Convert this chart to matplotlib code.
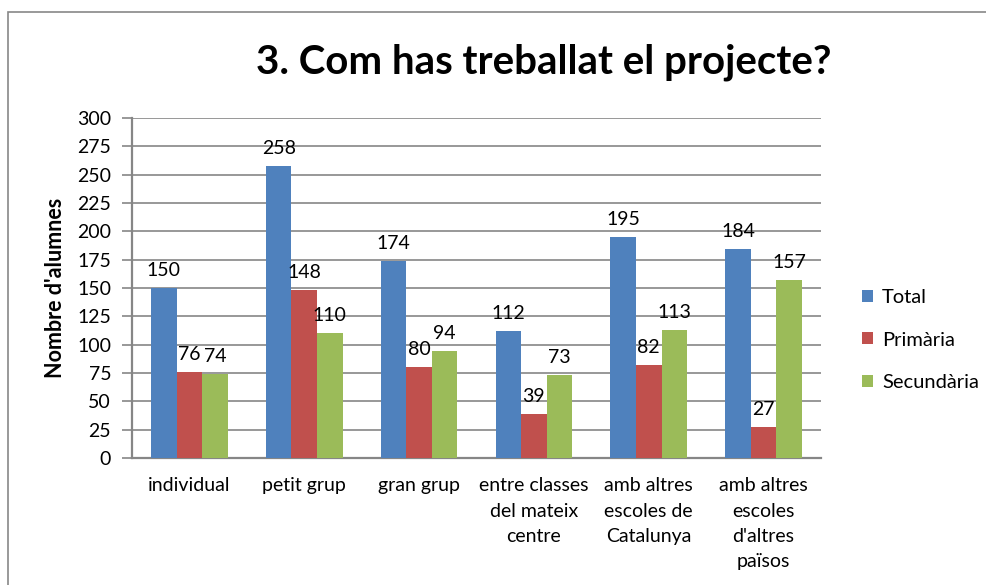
import matplotlib
matplotlib.use("Agg")
import matplotlib.pyplot as plt
from matplotlib.patches import Rectangle, Patch
import numpy as np

categories = ["individual", "petit grup", "gran grup",
              "entre classes\ndel mateix\ncentre",
              "amb altres\nescoles de\nCatalunya",
              "amb altres\nescoles\nd'altres\npaïsos"]
series_names = ["Total", "Primària", "Secundària"]
total = [150, 258, 174, 112, 195, 184]
primaria = [76, 148, 80, 39, 82, 27]
secundaria = [74, 110, 94, 73, 113, 157]
colors = ["#4F81BD", "#C0504D", "#9BBB59"]
yticks = list(range(0, 301, 25))

plt.rcParams['font.family'] = ['Lato', 'DejaVu Sans']

W, H = 987, 585
fig = plt.figure(figsize=(W/100, H/100), dpi=100)
ax = fig.add_axes([132/W, 1-458/H, (821-132)/W, (458-118)/H])

# outer frame
fig.patches.append(Rectangle((8/W, -0.1), 1.2, 1-12/H+0.1, transform=fig.transFigure,
                             fill=False, edgecolor="#878787", linewidth=1.2))

n = len(categories)
x = np.arange(n)
bw = 1/4.5
for i, (vals, name, c) in enumerate(zip([total, primaria, secundaria], series_names, colors)):
    pos = x + (i-1)*bw
    ax.bar(pos, vals, width=bw, color=c, label=name, zorder=3, linewidth=0)
    for p, v in zip(pos, vals):
        ax.text(p, v + 8, str(v), ha="center", va="bottom", fontsize=14, color="black", zorder=4)

ax.set_xlim(-0.5, n-0.5)
ax.set_ylim(0, 300)
ax.set_yticks(yticks)
ax.set_yticklabels([str(t) for t in yticks], fontsize=14)
ax.set_xticks(x)
ax.set_xticklabels(categories, fontsize=14, linespacing=1.58, va="top")
ax.tick_params(axis="x", length=0, pad=14)
ax.tick_params(axis="y", length=7, color="#868686", width=1.2, pad=8)
ax.grid(axis="y", color="#868686", linewidth=1.2, zorder=0)
for s in ["top", "right"]:
    ax.spines[s].set_visible(False)
for s in ["left", "bottom"]:
    ax.spines[s].set_color("#868686")
    ax.spines[s].set_linewidth(1.6)
ax.set_ylabel("Nombre d'alumnes", fontsize=15.5, fontweight="bold", labelpad=8)

fig.text(544/W, 1-62/H, "3. Com has treballat el projecte?", ha="center", va="center",
         fontsize=29, fontweight="bold")

handles = [Patch(facecolor=c, label=nm) for c, nm in zip(colors, series_names)]
fig.legend(handles=handles, loc="center left", bbox_to_anchor=(862/W, 1-340/H),
           frameon=False, fontsize=14.5, handlelength=0.55, handleheight=0.55,
           handletextpad=0.45, labelspacing=1.28, borderpad=0, borderaxespad=0)

fig.savefig("out.png", dpi=100)
